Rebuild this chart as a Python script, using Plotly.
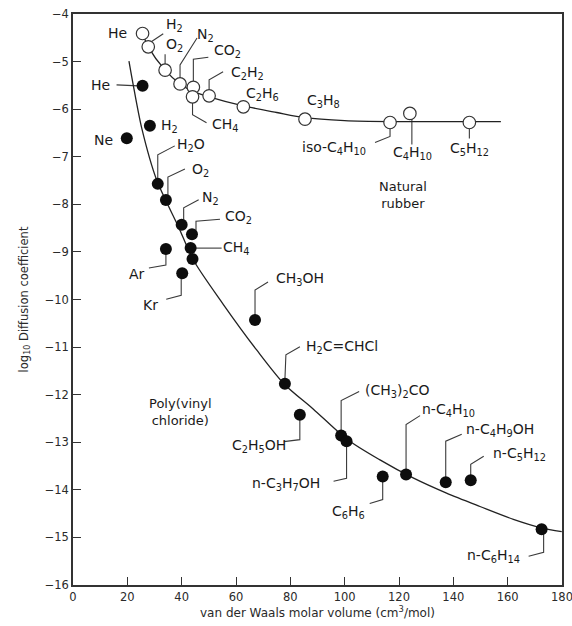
import plotly.graph_objects as go

# ---------------- data ----------------
rubber_gas = ["He", "H2", "O2", "N2", "CO2", "CH4", "C2H2", "C2H6", "C3H8",
              "iso-C4H10", "C4H10", "C5H12"]
rubber_volume = [25.6, 27.7, 33.9, 39.4, 44.3, 44.0, 50.1, 62.7, 85.4, 116.7, 124.0, 145.9]
rubber_logD = [-4.41, -4.69, -5.18, -5.47, -5.54, -5.74, -5.72, -5.95, -6.21, -6.28, -6.09, -6.28]

pvc_gas = ["He", "H2", "Ne", "H2O", "O2", "N2", "CO2", "CH4", "", "Ar", "Kr",
           "CH3OH", "H2C=CHCl", "C2H5OH", "(CH3)2CO", "n-C3H7OH", "C6H6",
           "n-C4H10", "n-C4H9OH", "n-C5H12", "n-C6H14"]
pvc_volume = [25.6, 28.3, 19.8, 31.2, 34.2, 40.0, 43.8, 43.3, 44.0, 34.2, 40.2,
              67.0, 78.0, 83.5, 98.7, 100.7, 114.0, 122.6, 137.2, 146.4, 172.5]
pvc_logD = [-5.51, -6.35, -6.61, -7.57, -7.91, -8.43, -8.63, -8.92, -9.15, -8.94, -9.45,
            -10.43, -11.77, -12.42, -12.86, -12.98, -13.72, -13.68, -13.84, -13.80, -14.83]

rubber_curve_volume = [25.6, 27.7, 33.9, 39.4, 44.0, 50.1, 62.7, 75.0, 85.4, 100.0,
                       116.7, 130.0, 146.0, 157.5]
rubber_curve_logD = [-4.41, -4.69, -5.18, -5.47, -5.62, -5.74, -5.93, -6.07, -6.18, -6.24,
                     -6.26, -6.26, -6.26, -6.26]

pvc_curve_volume = [20.6, 22.2, 25.3, 30.8, 38.8, 44.3, 55.3, 67.6, 77.8, 88.4, 100.7,
                    113.0, 125.2, 137.5, 149.8, 162.1, 172.5, 179.9]
pvc_curve_logD = [-4.99, -5.50, -6.40, -7.49, -8.47, -9.17, -10.10, -11.06, -11.78, -12.30,
                  -12.93, -13.37, -13.75, -14.07, -14.35, -14.62, -14.80, -14.88]

x_ticks = [0, 20, 40, 60, 80, 100, 120, 140, 160, 180]
y_ticks = [-16, -15, -14, -13, -12, -11, -10, -9, -8, -7, -6, -5, -4]

x_title = "van der Waals molar volume (cm<sup>3</sup>/mol)"
y_title = "log<sub>10</sub> Diffusion coefficient"
region_labels = ["Natural<br>rubber", "Poly(vinyl<br>chloride)"]

# ---------------- label text (rich) ----------------
rich = {
    "He": "He", "H2": "H<sub>2</sub>", "O2": "O<sub>2</sub>", "N2": "N<sub>2</sub>",
    "CO2": "CO<sub>2</sub>", "CH4": "CH<sub>4</sub>", "C2H2": "C<sub>2</sub>H<sub>2</sub>",
    "C2H6": "C<sub>2</sub>H<sub>6</sub>", "C3H8": "C<sub>3</sub>H<sub>8</sub>",
    "iso-C4H10": "iso-C<sub>4</sub>H<sub>10</sub>", "C4H10": "C<sub>4</sub>H<sub>10</sub>",
    "C5H12": "C<sub>5</sub>H<sub>12</sub>", "Ne": "Ne", "H2O": "H<sub>2</sub>O",
    "Ar": "Ar", "Kr": "Kr", "CH3OH": "CH<sub>3</sub>OH",
    "H2C=CHCl": "H<sub>2</sub>C=CHCl", "C2H5OH": "C<sub>2</sub>H<sub>5</sub>OH",
    "(CH3)2CO": "(CH<sub>3</sub>)<sub>2</sub>CO", "n-C3H7OH": "n-C<sub>3</sub>H<sub>7</sub>OH",
    "C6H6": "C<sub>6</sub>H<sub>6</sub>", "n-C4H10": "n-C<sub>4</sub>H<sub>10</sub>",
    "n-C4H9OH": "n-C<sub>4</sub>H<sub>9</sub>OH", "n-C5H12": "n-C<sub>5</sub>H<sub>12</sub>",
    "n-C6H14": "n-C<sub>6</sub>H<sub>14</sub>",
}

# label placement: pixel offset of label centre from the mark, leader polyline (pixels, y up)
rubber_place = {
    "He": (-25, 1, None),
    "H2": (26, 22, [(3, 5), (15, 13)]),
    "O2": (9, 25, [(0, 5), (0, 16)]),
    "N2": (25, 49, [(0, 4), (0, 19), (17, 46)]),
    "CO2": (34, 36, [(0, 2), (0, 28), (15, 30)]),
    "CH4": (33, -28, [(0, -4), (0, -18), (14, -26)]),
    "C2H2": (38, 23, [(0, 3), (0, 16), (14, 24)]),
    "C2H6": (19, 13, None),
    "C3H8": (18, 18, None),
    "iso-C4H10": (-56, -26, [(0, -4), (0, -14), (-15, -20)]),
    "C4H10": (3, -40, [(2, -5), (2, -31)]),
    "C5H12": (0, -27, [(0, -4), (0, -16)]),
}
pvc_place = {
    "He": (-42, 1, [(-4, 0), (-26, 1)]),
    "H2": (20, 0, None),
    "Ne": (-23, -2, None),
    "H2O": (33, 39, [(0, 4), (0, 29), (17, 38)]),
    "O2": (35, 30, [(2, 5), (2, 23), (19, 31)]),
    "N2": (29, 27, [(2, 5), (2, 17), (17, 25)]),
    "CO2": (47, 17, [(4, 4), (4, 13), (28, 15)]),
    "CH4": (46, 0, [(3, 0), (31, 0)]),
    "Ar": (-29, -25, [(0, -4), (0, -16), (-17, -19)]),
    "Kr": (-32, -32, [(-1, -3), (-1, -22), (-16, -26)]),
    "CH3OH": (45, 41, [(0, 5), (0, 30), (13, 38)]),
    "H2C=CHCl": (57, 37, [(0, 4), (1, 29), (15, 37)]),
    "C2H5OH": (-41, -31, [(0, -5), (0, -25), (-16, -27)]),
    "(CH3)2CO": (56, 45, [(0, 2), (0, 35), (18, 44)]),
    "n-C3H7OH": (-61, -43, [(0, -2), (0, -37), (-13, -40)]),
    "C6H6": (-34, -35, [(0, -3), (0, -23), (-13, -27)]),
    "n-C4H10": (42, 65, [(0, 5), (0, 50), (14, 59)]),
    "n-C4H9OH": (54, 52, [(0, 4), (0, 41), (16, 48)]),
    "n-C5H12": (49, 26, [(0, 4), (0, 16), (13, 24)]),
    "n-C6H14": (-48, -27, [(2, -2), (2, -23), (-13, -27)]),
}

FONT = "DejaVu Sans, Liberation Sans, Arial, sans-serif"
INK = "#1a1a1a"

fig = go.Figure()

fig.add_trace(go.Scatter(x=pvc_curve_volume, y=pvc_curve_logD, mode="lines",
                         line=dict(color="#222222", width=1.3, shape="spline", smoothing=0.8),
                         hoverinfo="skip", showlegend=False))
fig.add_trace(go.Scatter(x=rubber_curve_volume, y=rubber_curve_logD, mode="lines",
                         line=dict(color="#222222", width=1.3, shape="spline", smoothing=0.8),
                         hoverinfo="skip", showlegend=False))
fig.add_trace(go.Scatter(x=pvc_volume, y=pvc_logD, mode="markers", text=pvc_gas,
                         marker=dict(size=12, color="#0d0d0d", line=dict(width=0)),
                         showlegend=False))
fig.add_trace(go.Scatter(x=rubber_volume, y=rubber_logD, mode="markers", text=rubber_gas,
                         marker=dict(size=12.5, color="white", line=dict(width=1.2, color="#333333")),
                         showlegend=False))

annotations = []
shapes = []
for gases, vols, logs, place in ((rubber_gas, rubber_volume, rubber_logD, rubber_place),
                                 (pvc_gas, pvc_volume, pvc_logD, pvc_place)):
    for g, vx, vy in zip(gases, vols, logs):
        if g not in place:
            continue
        dx, dy, leader = place[g]
        annotations.append(dict(x=vx, y=vy, xref="x", yref="y", text=rich[g], showarrow=False,
                                xshift=dx, yshift=dy, xanchor="center", yanchor="middle",
                                font=dict(family=FONT, size=14, color=INK)))
        if leader:
            path = "M" + " L".join(f"{a},{b}" for a, b in leader)
            shapes.append(dict(type="path", xref="x", yref="y", xsizemode="pixel",
                               ysizemode="pixel", xanchor=vx, yanchor=vy, path=path,
                               line=dict(color="#3a3a3a", width=1.1), layer="below"))

annotations.append(dict(x=121.5, y=-7.8, xref="x", yref="y", text=region_labels[0],
                        showarrow=False, font=dict(family=FONT, size=13, color=INK)))
annotations.append(dict(x=39.4, y=-12.36, xref="x", yref="y", text=region_labels[1],
                        showarrow=False, font=dict(family=FONT, size=13, color=INK)))

fig.update_layout(
    width=572, height=626,
    margin=dict(l=73, r=10, t=14, b=41),
    paper_bgcolor="white", plot_bgcolor="white",
    annotations=annotations, shapes=shapes,
    showlegend=False,
    xaxis=dict(range=[0, 180], tickvals=x_ticks, ticks="inside", ticklen=8, tickwidth=1.3,
               tickcolor="#333333", showline=True, linecolor="#333333", linewidth=1.5,
               mirror=True, showgrid=False, zeroline=False, automargin=False,
               ticklabeloverflow="allow",
               tickfont=dict(family=FONT, size=11.5, color="#2a2a2a"),
               title=dict(text=x_title, standoff=4,
                          font=dict(family=FONT, size=12, color="#2a2a2a"))),
    yaxis=dict(range=[-16, -4], tickvals=y_ticks, ticks="inside", ticklen=8, tickwidth=1.3,
               tickcolor="#333333", showline=True, linecolor="#333333", linewidth=1.5,
               mirror=True, showgrid=False, zeroline=False, automargin=False,
               ticklabeloverflow="allow",
               tickfont=dict(family=FONT, size=11.5, color="#2a2a2a"),
               title=dict(text=y_title, standoff=14,
                          font=dict(family=FONT, size=11.5, color="#2a2a2a"))),
)

fig.write_html("out.html", config={"displayModeBar": False},
               post_script="document.body.style.margin='0';document.body.style.padding='0';")
